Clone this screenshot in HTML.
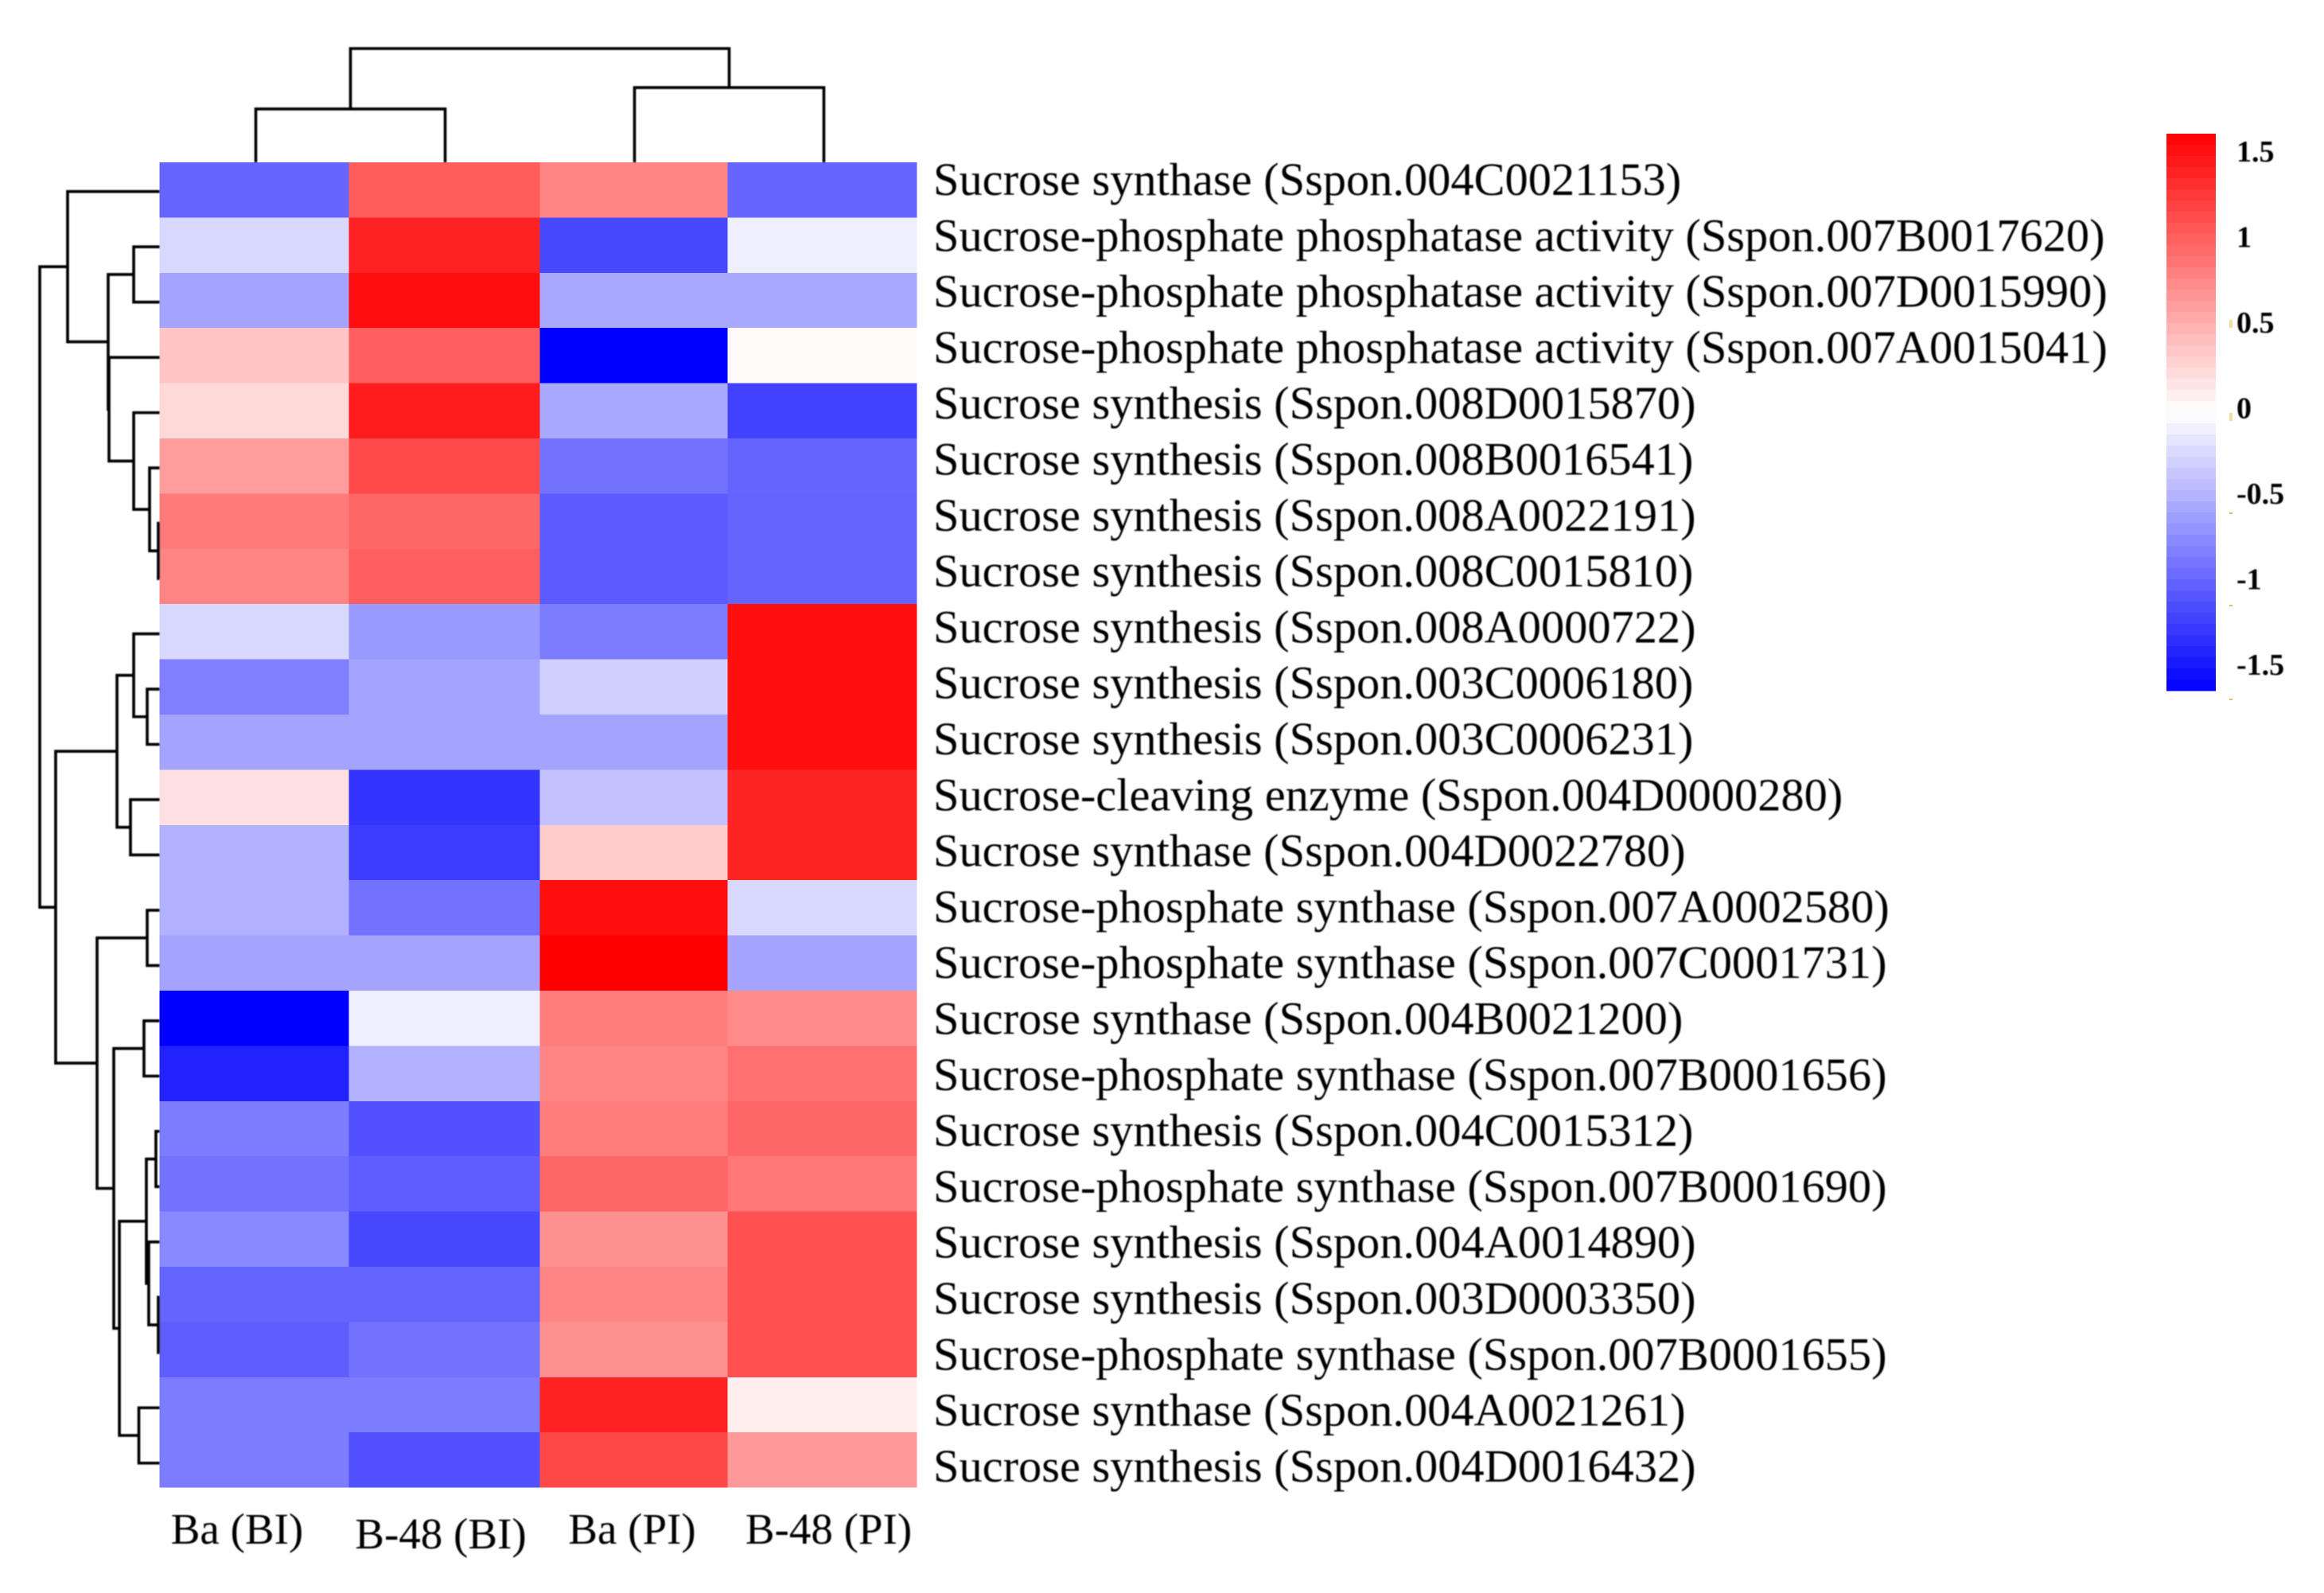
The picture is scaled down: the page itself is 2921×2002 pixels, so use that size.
<!DOCTYPE html>
<html lang="en">
<head>
<meta charset="utf-8">
<title>Sucrose gene expression heatmap</title>
<style>
  html, body { margin: 0; padding: 0; background: #fefefe; }
  svg { display: block; }
  text { font-family: "Liberation Serif", "Times New Roman", serif; fill: #000; }
  .soft { filter: blur(0.7px); }
</style>
</head>
<body>
<svg id="chart" xmlns="http://www.w3.org/2000/svg" width="2921" height="2002" viewBox="0 0 2921 2002">
  <rect x="0" y="0" width="2921" height="2002" fill="#fefefe"></rect>
  <g id="cells" shape-rendering="crispEdges"></g>
  <g id="col-tree" class="soft" fill="none" stroke="#000" stroke-width="3.6"></g>
  <g id="row-tree" class="soft" fill="none" stroke="#000" stroke-width="3.6"></g>
  <g id="row-labels" class="soft"></g>
  <g id="col-labels" class="soft"></g>
  <g id="colorbar" shape-rendering="crispEdges"></g>
  <g id="colorbar-ticks" class="soft"></g>
  <g fill="#eab77a">
    <rect x="2802" y="402" width="4" height="10" fill="#f3dc9c"></rect>
    <rect x="2802" y="519" width="4" height="10" fill="#f3dc9c"></rect>
    <rect x="2802" y="644" width="4" height="2"></rect>
    <rect x="2802" y="760" width="4" height="2"></rect>
    <rect x="2802" y="878" width="4" height="2"></rect>
  </g>
</svg>
<script>
// ---- chart data ----
const columns = ['Ba (BI)', 'B-48 (BI)', 'Ba (PI)', 'B-48 (PI)'];
const genes = [
  'Sucrose synthase (Sspon.004C0021153)',
  'Sucrose-phosphate phosphatase activity (Sspon.007B0017620)',
  'Sucrose-phosphate phosphatase activity (Sspon.007D0015990)',
  'Sucrose-phosphate phosphatase activity (Sspon.007A0015041)',
  'Sucrose synthesis (Sspon.008D0015870)',
  'Sucrose synthesis (Sspon.008B0016541)',
  'Sucrose synthesis (Sspon.008A0022191)',
  'Sucrose synthesis (Sspon.008C0015810)',
  'Sucrose synthesis (Sspon.008A0000722)',
  'Sucrose synthesis (Sspon.003C0006180)',
  'Sucrose synthesis (Sspon.003C0006231)',
  'Sucrose-cleaving enzyme (Sspon.004D0000280)',
  'Sucrose synthase (Sspon.004D0022780)',
  'Sucrose-phosphate synthase (Sspon.007A0002580)',
  'Sucrose-phosphate synthase (Sspon.007C0001731)',
  'Sucrose synthase (Sspon.004B0021200)',
  'Sucrose-phosphate synthase (Sspon.007B0001656)',
  'Sucrose synthesis (Sspon.004C0015312)',
  'Sucrose-phosphate synthase (Sspon.007B0001690)',
  'Sucrose synthesis (Sspon.004A0014890)',
  'Sucrose synthesis (Sspon.003D0003350)',
  'Sucrose-phosphate synthase (Sspon.007B0001655)',
  'Sucrose synthase (Sspon.004A0021261)',
  'Sucrose synthesis (Sspon.004D0016432)'
];
const baBI = [-0.98,-0.25,-0.58,0.38,0.25,0.63,0.85,0.78,-0.25,-0.82,-0.58,0.20,-0.50,-0.50,-0.58,-1.63,-1.41,-0.84,-0.90,-0.76,-0.99,-1.03,-0.84,-0.84];
const b48BI = [1.04,1.41,1.54,1.03,1.45,1.16,0.98,1.03,-0.65,-0.58,-0.58,-1.30,-1.24,-0.90,-0.58,-0.10,-0.50,-1.11,-1.04,-1.17,-0.99,-0.90,-0.84,-1.12];
const baPI = [0.78,-1.17,-0.55,-1.63,-0.55,-0.90,-1.05,-1.05,-0.84,-0.30,-0.58,-0.39,0.33,1.54,1.63,0.84,0.78,0.84,0.98,0.71,0.78,0.71,1.41,1.17];
const b48PI = [-0.98,-0.10,-0.55,0.03,-1.20,-0.98,-0.99,-0.99,1.54,1.54,1.54,1.40,1.40,-0.25,-0.58,0.74,0.91,0.98,0.87,1.11,1.11,1.11,0.10,0.65];
const colorTicks = [1.5, 1, 0.5, 0, -0.5, -1, -1.5];
const colorMax = 1.63;
// Row tree merges: ids below 24 are leaves, id 24+k is merge k.
const rowMergeA = [6,5,4,1,3,27,0,9,8,11,32,13,15,17,20,19,37,22,40,36,35,34,30];
const rowMergeB = [7,24,25,2,26,28,29,10,31,12,33,14,16,18,21,38,39,23,41,42,43,44,45];
const rowMergeHeight = [0.007,0.08,0.213,0.213,0.42,0.427,0.767,0.1,0.213,0.24,0.353,0.1,0.127,0.027,0.007,0.087,0.107,0.17,0.333,0.38,0.52,0.867,1];
// Column tree merges: ids below 4 are leaves, id 4+k is merge k.
const colMergeA = [0,2,4];
const colMergeB = [1,3,5];
const colMergeHeight = [0.469,0.657,1];

// ---- layout and axis functions ----
const NS = 'http://www.w3.org/2000/svg';
const heatLeft = 200.5, heatTop = 204, bandW = 238, bandH = 69.4;
const seriesByColumn = [baBI, b48BI, baPI, b48PI];
function xCol(c) { return heatLeft + c * bandW; }
function yRow(r) { return heatTop + r * bandH; }
function xRowHeight(h) { return 200 - h * 150; }
function yColHeight(h) { return 204 - h * 143; }
function yRowLabel(r) { return 245 + r * 70.3; }
const barLeft = 2723, barWidth = 62, barTop = 168, barHeight = 700, bandCount = 50;
function yTick(v) { return 525.5 - v * 215; }
function color(v) {
  const t = Math.max(-1, Math.min(1, v / colorMax));
  const k = Math.round(255 * (1 - Math.abs(t)));
  return t >= 0 ? 'rgb(255,' + k + ',' + k + ')' : 'rgb(' + k + ',' + k + ',255)';
}
function make(tag, parentId) {
  const el = document.createElementNS(NS, tag);
  document.getElementById(parentId).appendChild(el);
  return el;
}

// ---- heatmap cells ----
columns.forEach(function (col, c) {
  genes.forEach(function (gene, r) {
    const cell = make('rect', 'cells');
    // the third column edge sits about 2px right of the even grid in the figure
    const left = xCol(c) + (c === 2 ? 2 : 0);
    const right = xCol(c + 1) + (c === 1 ? 2 : 0);
    cell.setAttribute('x', left);
    cell.setAttribute('y', yRow(r));
    cell.setAttribute('width', right - left);
    cell.setAttribute('height', bandH);
    cell.setAttribute('fill', color(seriesByColumn[c][r]));
    
    
  });
});

// ---- row labels ----
genes.forEach(function (gene, r) {
  const t = make('text', 'row-labels');
  t.setAttribute('x', 1173);
  t.setAttribute('y', yRowLabel(r));
  t.setAttribute('font-size', '58.4');
  t.textContent = gene;
  
  
});

// ---- column labels ----
function drawColumnLabels() {
  const nudgeX = [-21.5, -3.5, -1, 8];
  const nudgeY = [0, 6, 0, 0];
  columns.forEach(function (name, c) {
    const t = make('text', 'col-labels');
    t.setAttribute('x', xCol(c) + bandW / 2 + nudgeX[c]);
    t.setAttribute('y', 1940 + nudgeY[c]);
    t.setAttribute('font-size', '55');
    t.setAttribute('text-anchor', 'middle');
    t.textContent = name;
    
    
  });
}
drawColumnLabels();

// ---- row dendrogram ----
function drawRowTree() {
  const nodes = {};
  genes.forEach(function (g, r) {
    nodes[r] = { x: heatLeft, y: yRow(r) + bandH / 2 + 2 + r * 0.08 };
  });
  rowMergeHeight.forEach(function (h, k) {
    const a = nodes[rowMergeA[k]], b = nodes[rowMergeB[k]];
    const x = xRowHeight(h);
    const p = make('path', 'row-tree');
    p.setAttribute('d', 'M' + a.x + ' ' + a.y + 'H' + x + 'V' + b.y + 'H' + b.x);
    
    
    nodes[genes.length + k] = { x: x, y: (a.y + b.y) / 2 };
  });
}
drawRowTree();

// ---- column dendrogram ----
function drawColTree() {
  const nodes = {};
  columns.forEach(function (g, c) {
    nodes[c] = { x: xCol(c) + bandW / 2 + 2, y: heatTop };
  });
  colMergeHeight.forEach(function (h, k) {
    const a = nodes[colMergeA[k]], b = nodes[colMergeB[k]];
    const y = yColHeight(h);
    const p = make('path', 'col-tree');
    p.setAttribute('d', 'M' + a.x + ' ' + a.y + 'V' + y + 'H' + b.x + 'V' + b.y);
    
    
    nodes[columns.length + k] = { x: (a.x + b.x) / 2, y: y };
  });
}
drawColTree();

// ---- colorbar ----
for (let i = 0; i < bandCount; i++) {
  const band = make('rect', 'colorbar');
  const v = colorMax - (i + 0.5) * (2 * colorMax / bandCount);
  band.setAttribute('x', barLeft);
  band.setAttribute('y', barTop + i * barHeight / bandCount);
  band.setAttribute('width', barWidth);
  band.setAttribute('height', barHeight / bandCount + 0.5);
  band.setAttribute('fill', color(v));
  
  
}
colorTicks.forEach(function (v) {
  const t = make('text', 'colorbar-ticks');
  t.setAttribute('x', 2811);
  t.setAttribute('y', yTick(v));
  t.setAttribute('font-size', '38');
  t.setAttribute('font-weight', 'bold');
  t.textContent = String(v);
  
  
});
</script>
</body>
</html>
